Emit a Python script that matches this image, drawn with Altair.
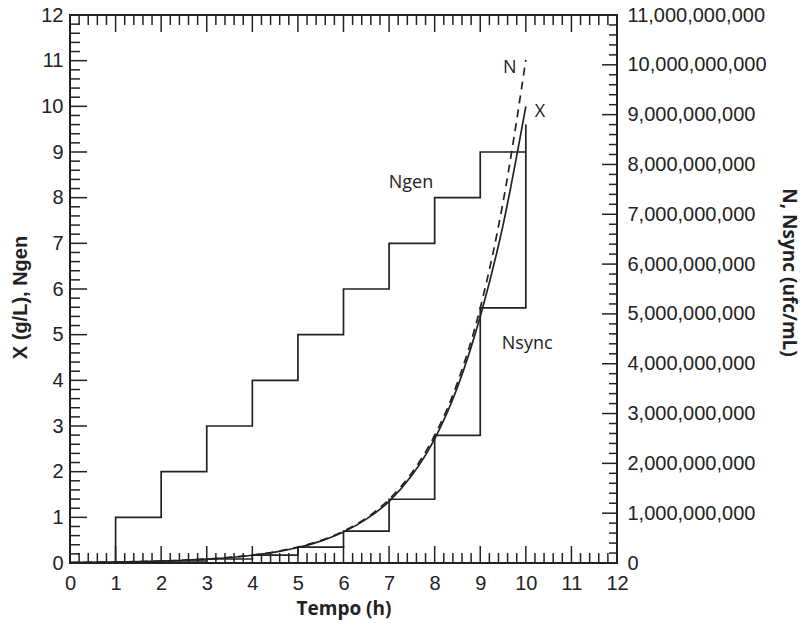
import altair as alt
import pandas as pd

# ---------------- data ----------------
hours = [0, 1, 2, 3, 4, 5, 6, 7, 8, 9, 10]
ngen = [0, 1, 2, 3, 4, 5, 6, 7, 8, 9, 9]
nsync = [1.0e7, 2.0e7, 4.0e7, 8.0e7, 1.6e8, 3.2e8, 6.4e8, 1.28e9, 2.56e9, 5.12e9, 8.8e9]

curve_t = [0, 0.5, 1, 1.5, 2, 2.5, 3, 3.5, 4, 4.5, 5, 5.5, 6, 6.5, 7, 7.5, 8, 8.5, 9, 9.5, 10]
x_gl = [0.011, 0.015, 0.021, 0.030, 0.043, 0.060, 0.085, 0.12, 0.17, 0.24, 0.34, 0.48,
        0.68, 0.96, 1.35, 1.92, 2.72, 3.85, 5.40, 7.40, 10.0]
n_ufc = [1.0e7, 1.4e7, 2.0e7, 2.8e7, 4.0e7, 5.7e7, 8.0e7, 1.13e8, 1.6e8, 2.26e8, 3.2e8, 4.5e8,
         6.4e8, 9.0e8, 1.28e9, 1.81e9, 2.56e9, 3.62e9, 5.12e9, 7.24e9, 1.01e10]

label_text = ["N", "X", "Ngen", "Nsync"]
label_t = [9.65, 10.31, 7.48, 10.03]
label_v = [10.84, 9.88, 8.32, 4.80]

x_ticks = list(range(0, 13))
left_ticks = list(range(0, 13))
right_ticks = [i * 1e9 for i in range(0, 12)]
x_minor = [i / 5 for i in range(0, 61) if i % 5]
left_minor = [i / 5 for i in range(0, 61) if i % 5]
right_minor = [i * 2e8 for i in range(0, 56) if i % 5]

# ---------------- layout ----------------
W, H = 547, 548
INK = "#222222"
LW = 1.7
TICKFONT = "Liberation Sans"

xs = alt.Scale(domain=[0, 12], nice=False, zero=False)
yl = alt.Scale(domain=[0, 12], nice=False, zero=False)
yr = alt.Scale(domain=[0, 11e9], nice=False, zero=False)

steps = pd.DataFrame({"t": hours, "ngen": ngen, "nsync": nsync})
curves = pd.DataFrame({"t": curve_t, "x": x_gl, "n": n_ufc})
labels = pd.DataFrame({"label": label_text, "t": label_t, "v": label_v})

common = dict(domain=False, ticks=False, tickSize=0, grid=False, labelFont=TICKFONT,
              labelFontSize=20, labelColor=INK, labelFlush=False, labelOverlap=False,
              titleColor=INK, titleBaseline="middle", titleAlign="center")

x_axis = alt.Axis(values=x_ticks, title="Tempo (h)", labelPadding=10,
                  titleFont="Open Sans", titleFontWeight="bold", titleFontSize=19,
                  titleX=W / 2, titleY=45, **common)
left_axis = alt.Axis(values=left_ticks, title="X (g/L), Ngen", labelPadding=7,
                     titleFont=TICKFONT, titleFontWeight="bold", titleFontSize=20,
                     titleAngle=270, titleX=-50, titleY=282, **common)
right_axis = alt.Axis(values=right_ticks, format=",d", title="N, Nsync (ufc/mL)",
                      orient="right", labelPadding=10, titleFont="Open Sans",
                      titleFontWeight="bold", titleFontSize=19, titleAngle=90,
                      titleX=171, titleY=257, **common)

ngen_line = alt.Chart(steps).mark_line(interpolate="step-after", color=INK, strokeWidth=LW).encode(
    x=alt.X("t:Q", scale=xs, axis=x_axis),
    y=alt.Y("ngen:Q", scale=yl, axis=left_axis),
)
x_line = alt.Chart(curves).mark_line(interpolate="monotone", color=INK, strokeWidth=LW).encode(
    x=alt.X("t:Q", scale=xs),
    y=alt.Y("x:Q", scale=yl),
)
text_layer = alt.Chart(labels).mark_text(font="Open Sans", fontSize=18, color=INK,
                                         align="center", baseline="middle").encode(
    x=alt.X("t:Q", scale=xs),
    y=alt.Y("v:Q", scale=yl),
    text="label:N",
)


def hticks(values, x0, x1, scale):
    return alt.Chart(pd.DataFrame({"v": values})).mark_rule(color=INK, strokeWidth=1.5).encode(
        y=alt.Y("v:Q", scale=scale), x=alt.value(x0), x2=alt.value(x1))


def vticks(values, y0, y1):
    return alt.Chart(pd.DataFrame({"v": values})).mark_rule(color=INK, strokeWidth=1.5).encode(
        x=alt.X("v:Q", scale=xs), y=alt.value(y0), y2=alt.value(y1))


left_layer = alt.layer(
    ngen_line, x_line, text_layer,
    hticks(left_ticks, 0, 17, yl), hticks(left_minor, 0, 10, yl),
    vticks(x_ticks, 0, 17), vticks(x_minor, 0, 10),
    vticks(x_ticks, H, H - 17), vticks(x_minor, H, H - 10),
)

nsync_line = alt.Chart(steps).mark_line(interpolate="step-after", color=INK, strokeWidth=LW).encode(
    x=alt.X("t:Q", scale=xs),
    y=alt.Y("nsync:Q", scale=yr, axis=right_axis),
)
n_line = alt.Chart(curves).mark_line(interpolate="monotone", color=INK, strokeWidth=LW,
                                     strokeDash=[8, 6]).encode(
    x=alt.X("t:Q", scale=xs),
    y=alt.Y("n:Q", scale=yr),
)
right_layer = alt.layer(
    nsync_line, n_line,
    hticks(right_ticks, W - 15, W, yr), hticks(right_minor, W - 8, W, yr),
)

chart = alt.layer(left_layer, right_layer).resolve_scale(y="independent").properties(
    width=W, height=H,
    padding={"left": 10, "top": 5, "right": 5, "bottom": 7},
).configure_view(stroke=INK, strokeWidth=2).configure_axis(grid=False, domain=False, ticks=False)

chart.save("out.html", embed_options={"renderer": "svg", "actions": False})
